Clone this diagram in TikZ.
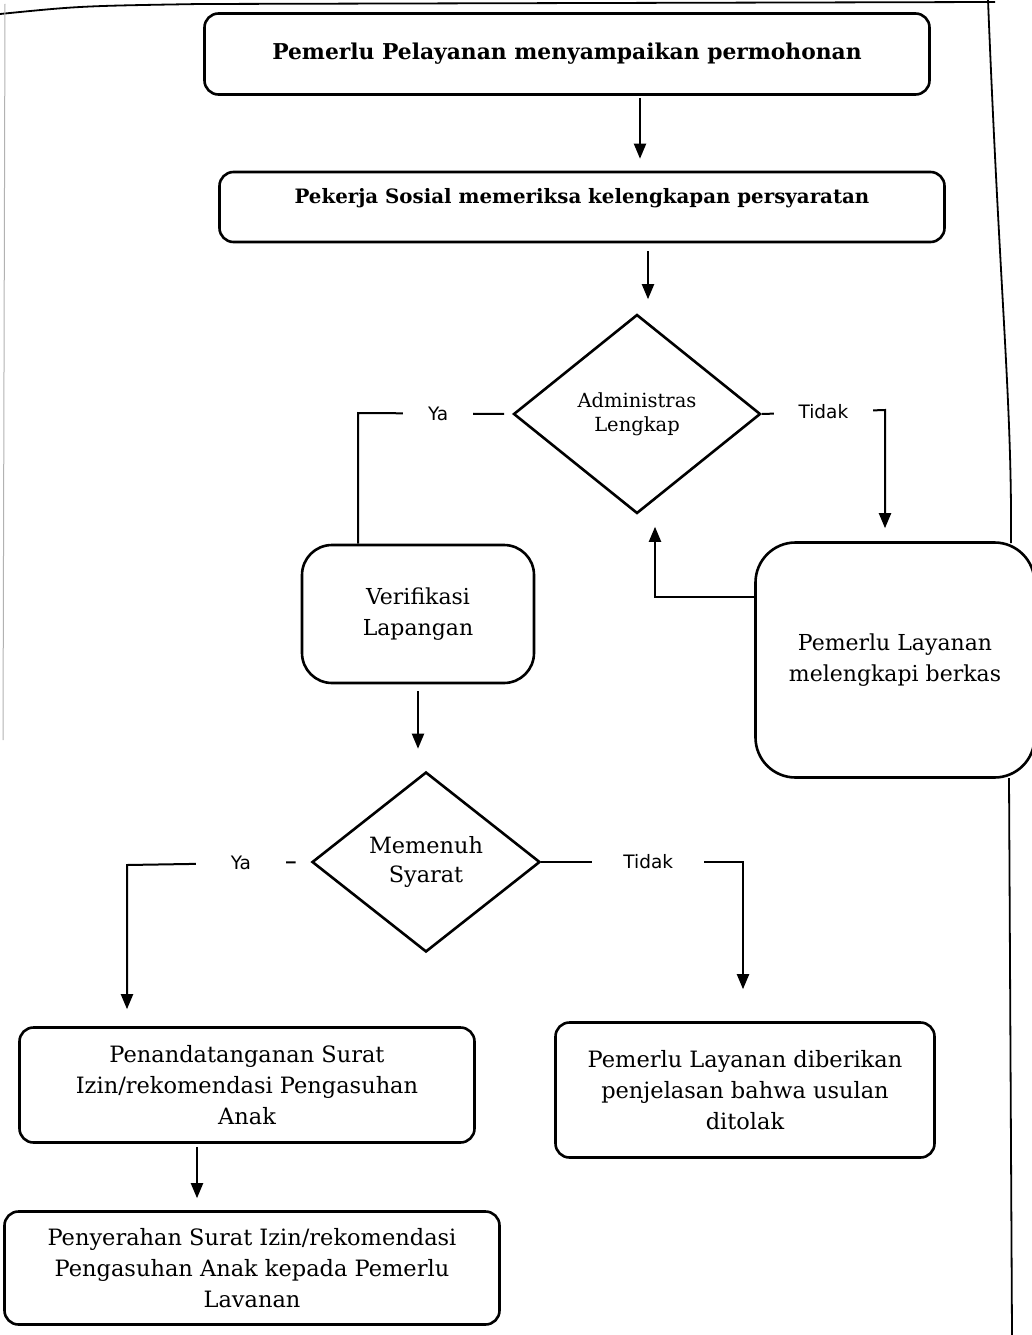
\documentclass[tikz,border=0pt]{standalone}
\usepackage{fontspec}
\setmainfont{DejaVu Serif}
\newfontfamily\lblfont{DejaVu Sans}
\usepackage{tikz}
\usetikzlibrary{arrows.meta,shapes.geometric}
\tikzset{
  box/.style={draw,line width=2.6pt,rounded corners=14pt,inner sep=0pt,align=center},
  bigbox/.style={box,rounded corners=30pt,font=\fontsize{22}{31}\selectfont},
  txtbox/.style={box,font=\fontsize{22.5}{31}\selectfont},
  decision/.style={draw,diamond,line width=2.6pt,inner sep=0pt,align=center},
  lbl/.style={fill=white,inner ysep=2pt,font=\lblfont\fontsize{18.5}{18.5}\selectfont},
  arr/.style={-{Triangle[length=15pt,width=12pt]},line width=2pt},
  con/.style={line width=2pt}
}

\begin{document}
\begin{tikzpicture}[x=1pt,y=-1pt]
\useasboundingbox (0,0) rectangle (1032,1335);
% page frame
\draw[line width=1.8pt] (0,14) .. controls (80,6) .. (200,4) -- (995,2);
\draw[line width=1.8pt] (988,0) .. controls (1000,300) and (1012,400) .. (1011,543);
\draw[line width=1.8pt] (1009,778) -- (1012,1335);
\draw[gray!60,line width=1pt] (5,4) -- (3,740);

\node[box,minimum width=725pt,minimum height=81pt,font=\bfseries\fontsize{21.8}{24}\selectfont] (mohon) at (567,54) {Pemerlu Pelayanan menyampaikan permohonan};
\node[box,minimum width=725pt,inner ysep=13pt,text height=18pt,text depth=26pt,font=\bfseries\fontsize{19.8}{22}\selectfont] (cek) at (582,207) {Pekerja Sosial memeriksa kelengkapan persyaratan};
\node[decision,minimum width=247pt,minimum height=199pt,font=\fontsize{19.5}{24}\selectfont] (adm) at (637,414) {Administras\\Lengkap};
\node[bigbox,minimum width=279pt,minimum height=235pt,rounded corners=40pt] (lengkap) at (895,660) {Pemerlu Layanan\\melengkapi berkas};
\node[bigbox,minimum width=232pt,minimum height=138pt] (verif) at (418,614) {Verifikasi\\Lapangan};
\node[decision,minimum width=228pt,minimum height=180pt,font=\fontsize{22.4}{29}\selectfont] (syarat) at (426,862) {Memenuh\\Syarat};
\node[txtbox,minimum width=455pt,minimum height=115pt] (izin) at (247,1085) {Penandatanganan Surat\\Izin/rekomendasi Pengasuhan\\Anak};
\node[txtbox,minimum width=379pt,minimum height=135pt] (tolak) at (745,1090) {Pemerlu Layanan diberikan\\penjelasan bahwa usulan\\ditolak};
\node[txtbox,minimum width=495pt,minimum height=113pt] (serah) at (252,1268) {Penyerahan Surat Izin/rekomendasi\\Pengasuhan Anak kepada Pemerlu\\Lavanan};

\coordinate (ax1) at (640,0);
\coordinate (ax2) at (648,0);
\coordinate (ax3) at (197,0);
\coordinate (ya1) at (358,413);
\coordinate (tk1) at (885,410);
\coordinate (bk) at (655,597);
\coordinate (ya2) at (127,865);
\coordinate (tk2) at (743,862);

\draw[arr,shorten <=2pt,shorten >=12pt] (mohon.south -| ax1) -- (cek.north -| ax1);
\draw[arr,shorten <=8pt,shorten >=14pt] (cek.south -| ax2) -- (adm.north -| ax2);
\draw[con,shorten <=8pt] (adm.west) -- node[lbl,pos=.48,inner xsep=25pt]{Ya} (ya1) -- (ya1 |- verif.north);
\draw[arr,shorten >=13pt] (adm.east) -- node[lbl,pos=.5,inner xsep=25pt]{Tidak} (tk1) -- (tk1 |- lengkap.north);
\draw[arr,shorten >=12pt] (bk -| lengkap.west) -- (bk) -- (bk |- adm.south);
\draw[arr,shorten <=7pt,shorten >=22pt] (verif.south) -- (verif.south |- syarat.north);
\draw[arr,shorten <=15pt,shorten >=17pt] (syarat.west) -- node[lbl,pos=.38,inner xsep=35pt]{Ya} (ya2) -- (ya2 |- izin.north);
\draw[arr,shorten >=32pt] (syarat.east) -- node[lbl,pos=.53,inner xsep=31pt]{Tidak} (tk2) -- (tk2 |- tolak.north);
\draw[arr,shorten <=3pt,shorten >=12pt] (izin.south -| ax3) -- (serah.north -| ax3);
\end{tikzpicture}
\end{document}
